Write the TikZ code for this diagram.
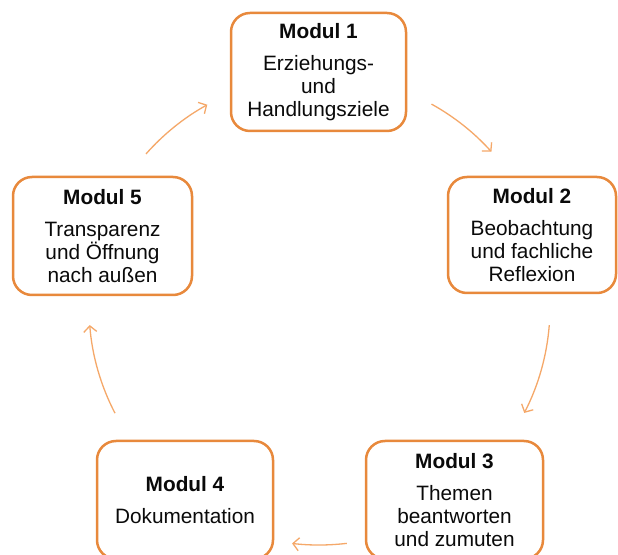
\documentclass[tikz,border=0pt]{standalone}
\usepackage{fontspec}
\setmainfont{Liberation Sans}
\usetikzlibrary{arrows.meta,calc}
\definecolor{boxline}{RGB}{232,137,60}
\definecolor{arrline}{RGB}{245,168,105}
\definecolor{txt}{RGB}{10,10,10}
\begin{document}
\begin{tikzpicture}[x=1pt,y=1pt,
  modbox/.style={draw=boxline, line width=2.5pt, rounded corners=19pt, fill=white,
    align=center, text=txt, inner sep=0pt,
    font=\fontsize{20.8}{23}\selectfont},
  cyc/.style={draw=arrline, line width=1.3pt, -{Straight Barb[length=6pt,width=13pt]}}]
\useasboundingbox (0,0) rectangle (618,554);
\fill[white] (0,0) rectangle (618,554);
\node[modbox, minimum width=175pt, minimum height=118pt] (m1) at (318.5,482)
  {\textbf{Modul 1}\\[9pt]Erziehungs-\\und\\Handlungsziele};
\node[modbox, minimum width=168pt, minimum height=116pt] (m2) at (532,319)
  {\textbf{Modul 2}\\[9pt]Beobachtung\\und fachliche\\Reflexion};
\node[modbox, minimum width=177pt, minimum height=118pt] (m3) at (454.5,54)
  {\textbf{Modul 3}\\[9pt]Themen\\beantworten\\und zumuten};
\node[modbox, minimum width=176pt, minimum height=118pt] (m4) at (185,54)
  {\textbf{Modul 4}\\[9pt]Dokumentation};
\node[modbox, minimum width=179pt, minimum height=118pt] (m5) at (102.5,318)
  {\textbf{Modul 5}\\[9pt]Transparenz\\und Öffnung\\nach außen};
\coordinate (c) at (319,247);
\coordinate (a12) at ($(c)+(61:232)$);
\coordinate (a23) at ($(c)+(-4.5:231)$);
\coordinate (a34) at ($(c)+(-83.3:238)$);
\coordinate (a45) at ($(c)+(207.5:230)$);
\coordinate (a51) at ($(c)+(138.5:231)$);
\draw[cyc] (a12) arc[start angle=61, end angle=42, radius=232];
\draw[cyc] (a23) arc[start angle=-4.5, end angle=-27.3, radius=231];
\draw[cyc] (a34) arc[start angle=-83.3, end angle=-96.5, radius=238];
\draw[cyc] (a45) arc[start angle=207.5, end angle=184.5, radius=230];
\draw[cyc] (a51) arc[start angle=138.5, end angle=119, radius=232];
\end{tikzpicture}
\end{document}
